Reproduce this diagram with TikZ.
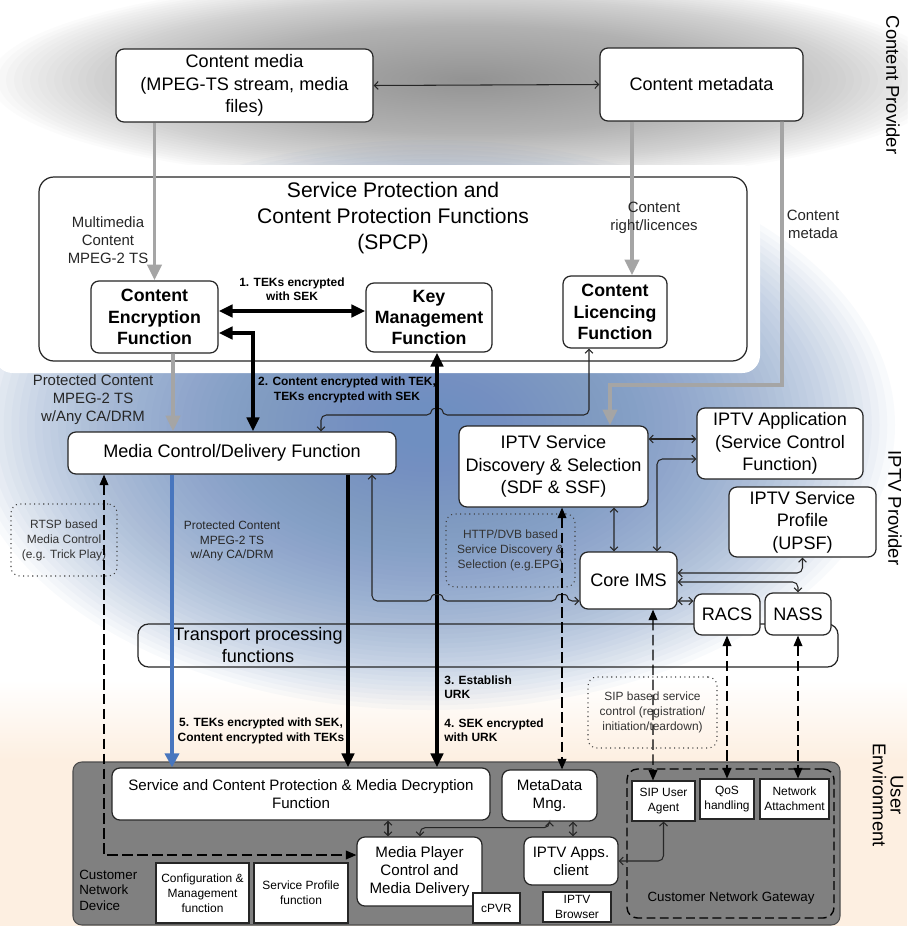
\documentclass[tikz,border=0pt]{standalone}
\usepackage{fontspec}
\setmainfont{Liberation Sans}
\usetikzlibrary{arrows.meta,calc}

\definecolor{bluebg}{RGB}{111,143,193}
\definecolor{peachbg}{RGB}{253,239,225}
\definecolor{devgrey}{RGB}{128,128,128}
\definecolor{arrblue}{RGB}{72,118,190}
\definecolor{linegrey}{RGB}{165,165,165}

\newcommand{\fnMain}{\fontsize{10.3}{12.7}\selectfont}
\newcommand{\fnFunc}{\bfseries\fontsize{10.1}{12.2}\selectfont}
\newcommand{\fnTitle}{\fontsize{12}{14.8}\selectfont}
\newcommand{\fnLab}{\fontsize{8.5}{10.2}\selectfont}
\newcommand{\fnSmall}{\fontsize{6.8}{8.3}\selectfont}
\newcommand{\fnStep}{\bfseries\fontsize{6.8}{8.2}\selectfont}
\newcommand{\fnDev}{\fontsize{8.6}{10.3}\selectfont}
\newcommand{\fnTiny}{\fontsize{6.8}{8.5}\selectfont}
\newcommand{\fnCnd}{\fontsize{7.6}{8.8}\selectfont}
\newcommand{\fnSide}{\fontsize{10.5}{10}\selectfont}

\tikzset{
  box/.style={draw=black!85, fill=white, line width=0.7pt, rounded corners=4.5pt,
              inner sep=0pt, align=center, font=\fnMain},
  fbox/.style={box, font=\fnFunc},
  dbox/.style={box, font=\fnDev},
  sbox/.style={draw=black!85, fill=white, line width=0.6pt, inner sep=0pt,
               align=center, font=\fnTiny},
  tbox/.style={draw=black!85, line width=0.7pt, rounded corners=6pt, inner sep=0pt},
  note/.style={draw=black!75, dotted, line width=0.6pt, rounded corners=5pt,
               inner sep=0pt, align=center, font=\fnTiny, text=black!80},
  lab/.style={inner sep=0pt, align=center, font=\fnLab, text=black!85},
  steplab/.style={inner sep=0pt, align=center, font=\fnStep},
  side/.style={inner sep=0pt, rotate=-90, align=center, font=\fnSide},
  sz/.style 2 args={minimum width=#1*0.02cm, minimum height=#2*0.02cm},
  link/.style={draw=black!85, line width=0.6pt, rounded corners=3pt,
               {Straight Barb[length=2.2pt,width=4.5pt]}-{Straight Barb[length=2.2pt,width=4.5pt]}},
  thickarr/.style={line width=2.3pt, -{Triangle[length=8pt,width=7pt]}},
  thickboth/.style={line width=2.3pt, {Triangle[length=8pt,width=7pt]}-{Triangle[length=8pt,width=7pt]}},
  greyarr/.style={draw=linegrey, line width=2.2pt, -{Triangle[length=9pt,width=8pt]}},
  bluearrow/.style={draw=arrblue, line width=2.2pt, -{Triangle[length=8pt,width=8pt]}},
  ctrl/.style={line width=0.7pt, dash pattern=on 6pt off 2.5pt,
               {Triangle[length=6pt,width=5pt]}-{Triangle[length=6pt,width=5pt]}}
}

\begin{document}
\begin{tikzpicture}[x=0.02cm, y=-0.02cm]
\useasboundingbox (0,0) rectangle (907,926);

% backgrounds
\fill[white] (0,0) rectangle (907,926);
\shade[top color=white, bottom color=peachbg] (0,680) rectangle (907,760);
\fill[peachbg] (0,760) rectangle (907,926);
\foreach \k in {1,...,60}
  \fill[gray!85, opacity=0.032] (470,80) ellipse ({8*\k} and {1.75*\k});
\foreach \k in {1,...,60}
  \fill[bluebg, opacity=0.045] (430,425) ellipse ({7.75*\k} and {4.75*\k});
\fill[white, rounded corners=10pt] (-5,165) rectangle (760,373);

% provider labels
\node[side] (cpside) at (893,85) {Content Provider};
\node[side] (ipside) at (895,508) {IPTV Provider};
\node[side] (ueside) at (888,795) {User\\Environment};

% content provider
\node[box, sz={257}{73}] (cmedia) at (244.5,85.5) {Content media\\(MPEG-TS stream, media\\files)};
\node[box, sz={203}{73}] (cmeta) at (701.5,84.5) {Content metadata};

% SPCP
\node[draw=black!85, line width=0.7pt, rounded corners=8.5pt, sz={708}{184}] (spcp) at (393,269) {};
\node[font=\fnTitle, align=center, inner sep=0pt] (spcptitle) at (393,218)
  {Service Protection and\\Content Protection Functions\\(SPCP)};
\node[fbox, sz={127}{72}] (cef) at (154.5,317) {Content\\Encryption\\Function};
\node[fbox, sz={126}{69}] (keym) at (429,317.5) {Key\\Management\\Function};
\node[fbox, sz={104}{72}] (clf) at (615,312) {Content\\Licencing\\Function};

% IPTV provider
\node[tbox, sz={700}{43}] (transport) at (488,645.5) {};
\node[inner sep=0pt, align=center, font=\fnMain] (transportlab) at (258,645) {Transport processing\\functions};
\node[box, sz={328}{42}] (mcd) at (232,453) {Media Control/Delivery Function};
\node[box, sz={189}{81}] (sdf) at (553.5,466.5) {IPTV Service\\Discovery \& Selection\\(SDF \& SSF)};
\node[box, sz={166}{71}] (iptvapp) at (780,443.5) {IPTV Application\\(Service Control\\Function)};
\node[box, sz={147}{70}] (upsf) at (802.5,522) {IPTV Service\\Profile\\(UPSF)};
\node[box, sz={97}{57}] (coreims) at (628.5,580.5) {Core IMS};
\node[box, sz={66}{41}] (racs) at (727,614.5) {RACS};
\node[box, sz={66}{42}] (nass) at (798,614) {NASS};

\node[note, sz={106}{72}] (rtspnote) at (64,540) {RTSP based\\Media Control\\(e.g. Trick Play)};
\node[note, sz={129}{73}] (httpnote) at (510.5,550.5) {HTTP/DVB based\\Service Discovery \&\\Selection (e.g.EPG)};
\node[note, sz={129}{71}] (sipnote) at (652.5,712.5) {SIP based service\\control (registration/\\initiation/teardown)};

% user environment
\node[draw=black!70, fill=devgrey, line width=0.6pt, rounded corners=5pt, sz={767}{163}] (cnd) at (456.5,843.5) {};
\node[anchor=west, align=left, inner sep=0pt, font=\fnCnd] (cndlab) at (79,890) {Customer\\Network\\Device};
\node[dbox, sz={378}{52}] (scpmdf) at (301,794) {Service and Content Protection \& Media Decryption\\Function};
\node[dbox, sz={125}{69}] (mplayer) at (419.5,871.5) {Media Player\\Control and\\Media Delivery};
\node[sbox, sz={47}{30}] (cpvr) at (496.5,908) {cPVR};
\node[sbox, sz={93}{60}] (cfgmgmt) at (202.5,893) {Configuration \&\\Management\\function};
\node[sbox, sz={94}{60}] (svcprof) at (301,893) {Service Profile\\function};
\node[dbox, sz={95}{51}] (metadata) at (549.5,795.5) {MetaData\\Mng.};
\node[dbox, sz={94}{48}] (appsclient) at (571,861) {IPTV Apps.\\client};
\node[sbox, sz={68}{30}] (browser) at (577,907) {IPTV\\Browser};
\node[draw=black, line width=0.8pt, dash pattern=on 5pt off 2.5pt, rounded corners=6pt, sz={207}{149}] (gateway) at (730.5,843.5) {};
\node[inner sep=0pt, font=\fnCnd] (gatewaylab) at (731,898) {Customer Network Gateway};
\node[sbox, sz={63}{40}] (sipua) at (663.5,801) {SIP User\\Agent};
\node[sbox, sz={54}{40}] (qos) at (727,799) {QoS\\handling};
\node[sbox, sz={69}{40}] (netatt) at (794.5,799) {Network\\Attachment};

% content feeds
\draw[link] (cmedia.east) -- (cmeta.west);
\draw[greyarr] (cmedia.south -| cef.north) -- (cef.north);
\node[lab] (mmlab) at (108,240) {Multimedia\\Content\\MPEG-2 TS};
\draw[greyarr] ($(cmeta.south)+(-69.5,0)$) -- ($(clf.north)+(17,0)$);
\node[lab] (rightlab) at (654,218) {Content\\right/licences};
\draw[greyarr] ($(cmeta.south)+(80.5,0)$) -- (782,385) -- (610,385) -- ($(sdf.north)+(56.5,0)$);
\node[lab] (metalab) at (813,224) {Content\\metada};

% key flows
\draw[thickboth] ($(cef.east)+(0,-6)$) -- ($(keym.west)+(0,-6.5)$);
\node[steplab] (step1) at (292,289.5) {1. TEKs encrypted\\with SEK};
\draw[thickboth] ($(cef.east)+(0,16)$) -| ($(mcd.north)+(21,0)$);
\node[steplab] (step2) at (347,390) {2. Content encrypted with TEK,\\TEKs encrypted with SEK};
\draw[greyarr] ($(cef.south)+(18.5,0)$) -- ($(mcd.north)+(-59,0)$);
\node[lab] (protlab) at (93,400) {Protected Content\\MPEG-2 TS\\w/Any CA/DRM};
\draw[link] ($(clf.south)+(-26,0)$) -- (589,415) -- (442,415)
  .. controls (442,408) and (432,408) .. (432,415) -- (321,415) -- ($(mcd.north)+(89,0)$);
\draw[thickboth] ($(keym.south)+(8,0)$) -- ($(scpmdf.north)+(136,0)$);
\node[steplab, anchor=west, align=left] (step3) at (444,687) {3. Establish\\URK};
\node[steplab, anchor=west, align=left] (step4) at (444,730) {4. SEK encrypted\\with URK};

% delivery
\draw[bluearrow] ($(mcd.south)+(-60,0)$) -- ($(scpmdf.north)+(-129,0)$);
\node[inner sep=0pt, align=center, font=\fnSmall, text=black!85] (protlab2) at (232,541) {Protected Content\\MPEG-2 TS\\w/Any CA/DRM};
\draw[thickarr] ($(mcd.south)+(116,0)$) -- ($(scpmdf.north)+(47,0)$);
\node[steplab] (step5) at (261,731) {5. TEKs encrypted with SEK,\\Content encrypted with TEKs};
\draw[link] ($(mcd.south)+(140,0)$) -- (372,601) -- (432,601)
  .. controls (432,594) and (442,594) .. (442,601) -- (557,601)
  .. controls (557,594) and (567,594) .. (567,601) -- ($(coreims.west)+(0,20.5)$);

% IPTV control
\draw[link] ($(sdf.east)+(0,-27.5)$) -- ($(iptvapp.west)+(0,-4.5)$);
\draw[link] ($(coreims.north)+(28.5,0)$) |- ($(iptvapp.west)+(0,15.5)$);
\draw[link] ($(sdf.south)+(60.5,0)$) -- ($(coreims.north)+(-14.5,0)$);
\draw[link] ($(coreims.east)+(0,-7.5)$) -| (upsf.south);
\draw[link] ($(coreims.east)+(0,1.5)$) -| (nass.north);
\draw[link] ($(coreims.east)+(0,20.5)$) -- ($(racs.west)+(0,-13.5)$);

% control to the user environment
\draw[ctrl] ($(mcd.south)+(-128,0)$) |- ($(mplayer.west)+(0,-16.5)$);
\draw[ctrl] ($(sdf.south)+(8.5,0)$) -- ($(metadata.north)+(12.5,0)$);
\draw[ctrl] ($(coreims.south)+(24.5,0)$) -- ($(sipua.north)+(-10.5,0)$);
\draw[ctrl] (racs.south) -- (qos.north);
\draw[ctrl] (nass.south) -- (nass.south |- netatt.north);

% inside the device
\draw[link] ($(scpmdf.south)+(87,0)$) -- ($(mplayer.north)+(-31.5,0)$);
\draw[link] (metadata.south) -- ++(0,6) -| ($(mplayer.north)+(0.5,0)$);
\draw[link] ($(metadata.south)+(23.5,0)$) -- ($(appsclient.north)+(2,0)$);
\draw[link] (appsclient.east) -| (sipua.south);
\end{tikzpicture}
\end{document}
